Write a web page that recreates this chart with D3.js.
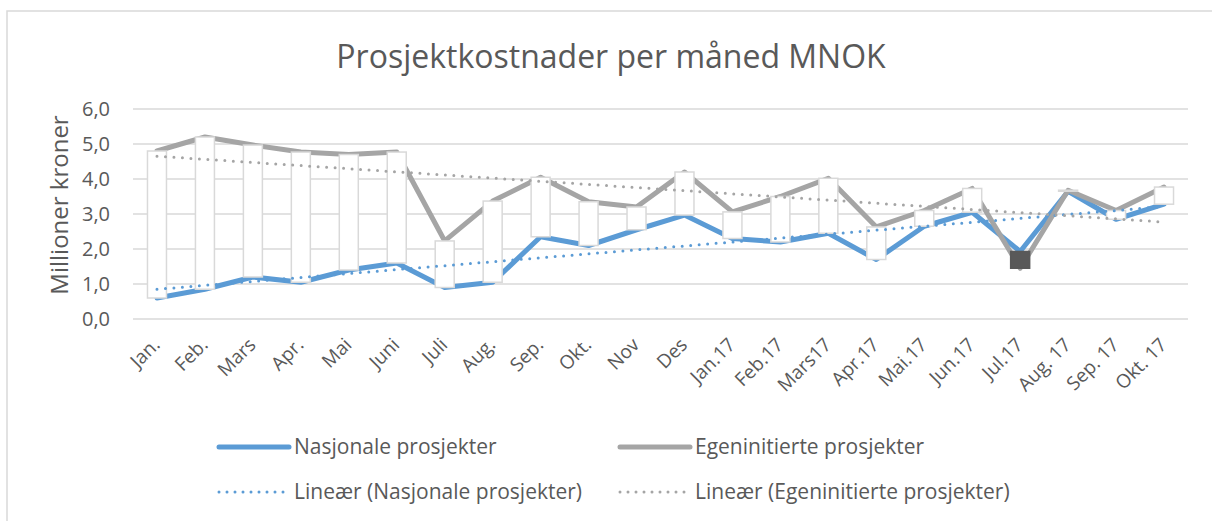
<!DOCTYPE html>
<html>
<head>
<meta charset="utf-8">
<script src="https://cdn.jsdelivr.net/npm/d3@7"></script>
<style>
  body { margin: 0; background: #fff; }
  svg text { font-family: "Open Sans", sans-serif; fill: #595959; }
</style>
</head>
<body>
<div id="chart"></div>
<script>
// data
const months = ["Jan.", "Feb.", "Mars", "Apr.", "Mai", "Juni", "Juli", "Aug.", "Sep.", "Okt.", "Nov", "Des",
    "Jan.17", "Feb.17", "Mars17", "Apr.17", "Mai.17", "Jun.17", "Jul.17", "Aug. 17", "Sep. 17", "Okt. 17"];
const nasjonale = [0.6, 0.85, 1.2, 1.05, 1.4, 1.6, 0.9, 1.05, 2.35, 2.1, 2.55, 2.97,
    2.3, 2.2, 2.45, 1.7, 2.65, 3.05, 1.93, 3.65, 2.85, 3.28];
const egeninitierte = [4.8, 5.2, 4.97, 4.77, 4.7, 4.77, 2.23, 3.37, 4.05, 3.35, 3.2, 4.2,
    3.06, 3.5, 4.02, 2.63, 3.1, 3.73, 1.45, 3.68, 3.1, 3.77];
const yTicks = [0, 1, 2, 3, 4, 5, 6];

const W = 1212, H = 521;
const margin = { top: 109, right: 24, bottom: 202, left: 133 },
    width = W - margin.left - margin.right,
    height = H - margin.top - margin.bottom;

const svg = d3.select("#chart")
    .append("svg")
    .attr("width", W)
    .attr("height", H);

// chart border
svg.append("rect")
    .attr("x", 7).attr("y", 11)
    .attr("width", W + 10).attr("height", H + 10)
    .attr("fill", "none")
    .attr("stroke", "#d9d9d9")
    .attr("stroke-width", 1.5);

svg.append("text")
    .attr("x", 611)
    .attr("y", 68)
    .attr("text-anchor", "middle")
    .style("font-size", "32px")
    .text("Prosjektkostnader per måned MNOK");

const g = svg.append("g")
    .attr("transform", `translate(${margin.left},${margin.top})`);

const x = d3.scaleBand()
    .domain(months)
    .range([0, width]);

const y = d3.scaleLinear()
    .domain([0, 6])
    .range([height, 0]);

const fmt = d => d.toFixed(1).replace(".", ",");

// gridlines
g.append("g")
    .selectAll("line")
    .data(yTicks)
    .join("line")
    .attr("x1", 0).attr("x2", width)
    .attr("y1", d => y(d)).attr("y2", d => y(d))
    .attr("stroke", "#d9d9d9")
    .attr("stroke-width", 1.3);

// y axis
const yAxis = g.append("g")
    .call(d3.axisLeft(y).tickValues(yTicks).tickFormat(fmt).tickSize(0).tickPadding(23));
yAxis.select(".domain").remove();
yAxis.selectAll("text").style("font-size", "20px");

g.append("text")
    .attr("transform", `translate(${-65},${96}) rotate(-90)`)
    .attr("text-anchor", "middle")
    .style("font-size", "24px")
    .text("Millioner kroner");

// x axis
const xAxis = g.append("g")
    .attr("transform", `translate(0,${height})`)
    .call(d3.axisBottom(x).tickSize(0));
xAxis.select(".domain").remove();
xAxis.selectAll("text")
    .style("font-size", "19px")
    .attr("text-anchor", "end")
    .attr("y", 0)
    .attr("dy", 0)
    .attr("transform", "translate(4,27) rotate(-45)");

const cx = (d, i) => x(months[i]) + x.bandwidth() / 2;

// lines
const line = d3.line().x((d, i) => cx(d, i)).y(d => y(d));
g.append("path").datum(nasjonale)
    .attr("d", line).attr("fill", "none")
    .attr("stroke", "#5b9bd5").attr("stroke-width", 5).attr("stroke-linejoin", "round").attr("stroke-linecap", "round");
g.append("path").datum(egeninitierte)
    .attr("d", line).attr("fill", "none")
    .attr("stroke", "#a5a5a5").attr("stroke-width", 5).attr("stroke-linejoin", "round").attr("stroke-linecap", "round");

// up/down bars
const barW = 19;
g.append("g")
    .selectAll("rect")
    .data(months)
    .join("rect")
    .attr("x", (d, i) => cx(d, i) - barW / 2)
    .attr("width", barW)
    .attr("y", (d, i) => y(Math.max(nasjonale[i], egeninitierte[i])))
    .attr("height", (d, i) => Math.abs(y(nasjonale[i]) - y(egeninitierte[i])))
    .attr("fill", (d, i) => egeninitierte[i] >= nasjonale[i] ? "#ffffff" : "#595959")
    .attr("stroke", (d, i) => egeninitierte[i] >= nasjonale[i] ? "#d9d9d9" : "#595959")
    .attr("stroke-width", 1.5);

// linear trendlines (least squares on the series)
function trend(vals) {
    const n = vals.length;
    const xs = d3.range(1, n + 1);
    const mx = d3.mean(xs), my = d3.mean(vals);
    const b = d3.sum(xs, (xi, i) => (xi - mx) * (vals[i] - my)) / d3.sum(xs, xi => (xi - mx) * (xi - mx));
    const a = my - b * mx;
    return xs.map(xi => a + b * xi);
}
g.append("path").datum(trend(nasjonale))
    .attr("d", line).attr("fill", "none")
    .attr("stroke", "#5b9bd5").attr("stroke-width", 3)
    .attr("stroke-dasharray", "0 8.5").attr("stroke-linecap", "round");
g.append("path").datum(trend(egeninitierte))
    .attr("d", line).attr("fill", "none")
    .attr("stroke", "#a5a5a5").attr("stroke-width", 3)
    .attr("stroke-dasharray", "0 8.5").attr("stroke-linecap", "round");

// legend
const legend = [
    { label: "Nasjonale prosjekter", color: "#5b9bd5", dotted: false, x: 219, y: 447 },
    { label: "Egeninitierte prosjekter", color: "#a5a5a5", dotted: false, x: 620, y: 447 },
    { label: "Lineær (Nasjonale prosjekter)", color: "#5b9bd5", dotted: true, x: 219, y: 492 },
    { label: "Lineær (Egeninitierte prosjekter)", color: "#a5a5a5", dotted: true, x: 620, y: 492 }
];
const lg = svg.append("g").selectAll("g").data(legend).join("g")
    .attr("transform", d => `translate(${d.x},${d.y})`);
lg.append("line")
    .attr("x1", 0).attr("x2", 70)
    .attr("stroke", d => d.color)
    .attr("stroke-width", d => d.dotted ? 3 : 5)
    .attr("stroke-linecap", "round")
    .attr("stroke-dasharray", d => d.dotted ? "0 8" : null);
lg.append("text")
    .attr("x", 75)
    .attr("dy", "0.35em")
    .style("font-size", "21px")
    .text(d => d.label);
</script>
</body>
</html>
